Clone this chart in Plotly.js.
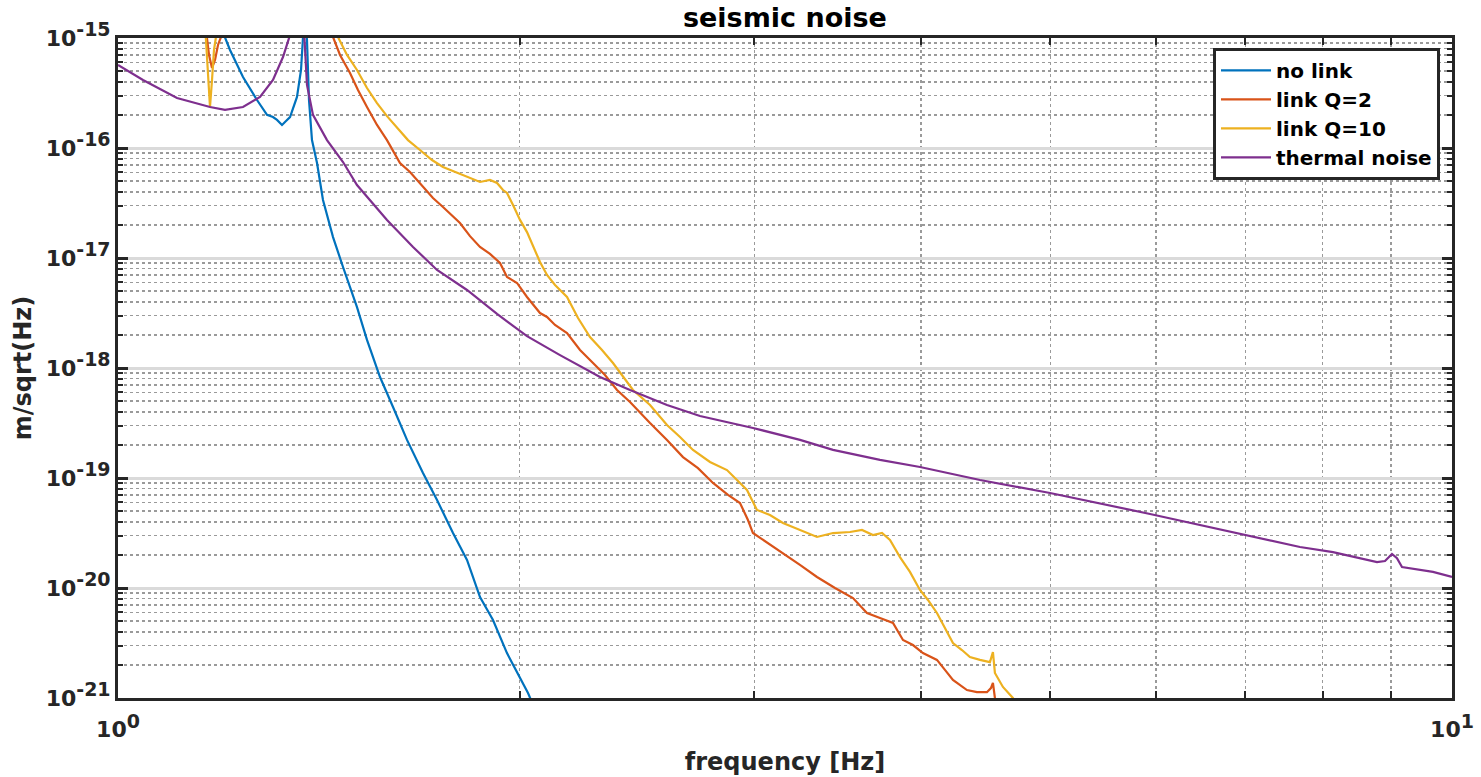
<!DOCTYPE html>
<html><head><meta charset="utf-8">
<script src="https://cdn.plot.ly/plotly-3.0.1.min.js"></script>
<style>html,body{margin:0;padding:0;background:#fff}#chart{width:1481px;height:777px}</style>
</head><body><div id="chart"></div>
<script>
// ---- data ----
const seriesNames = ["no link", "link Q=2", "link Q=10", "thermal noise"];

const noLinkFreq = [1.1884,1.2028,1.2133,1.2408,1.2712,1.2933,1.3067,1.3158,1.3272,1.3364,1.3457,1.3620,1.3715,1.3762,1.3810,1.3857,1.3905,1.3977,1.4099,1.4245,1.4494,1.4746,1.5106,1.5369,1.5718,1.6075,1.6468,1.6929,1.7344,1.7829,1.8265,1.8679,1.9103,1.9570,2.0015,2.0293,2.0398];
const noLinkAmp = [1.46e-15,1.02e-15,7.78e-16,4.42e-16,2.73e-16,2.00e-16,1.91e-16,1.80e-16,1.62e-16,1.76e-16,1.91e-16,2.91e-16,5.12e-16,1.02e-15,1.46e-15,9.59e-16,2.73e-16,1.18e-16,7.31e-17,3.37e-17,1.55e-17,8.28e-18,3.58e-18,1.80e-18,8.28e-19,4.42e-19,2.22e-19,1.11e-19,6.31e-20,3.16e-20,1.80e-20,8.28e-21,5.12e-21,2.56e-21,1.55e-21,1.11e-21,9.59e-22];

const q2Freq = [1.0568,1.1520,1.1640,1.1701,1.1762,1.1823,1.1884,1.1945,1.2008,1.4369,1.4494,1.4670,1.4925,1.5132,1.5369,1.5637,1.5909,1.6270,1.6553,1.6929,1.7223,1.7523,1.7798,1.8045,1.8360,1.8679,1.9004,1.9336,1.9571,1.9912,2.0258,2.0718,2.0970,2.1262,2.1707,2.2199,2.2703,2.3176,2.3663,2.4200,2.5050,2.5795,2.6517,2.7213,2.7926,2.8659,2.9259,2.9664,2.9921,3.0706,3.1512,3.2450,3.3418,3.4473,3.5560,3.6430,3.7257,3.8102,3.8765,3.9437,4.0124,4.1106,4.1677,4.2256,4.3290,4.4043,4.4810,4.5120,4.5276,4.5432,4.5668];
const q2Amp = [1.80e-14,3.37e-15,1.18e-15,7.01e-16,5.34e-16,6.31e-16,8.64e-16,1.02e-15,1.80e-15,1.80e-15,1.02e-15,7.01e-16,4.81e-16,3.37e-16,2.36e-16,1.62e-16,1.18e-16,7.31e-17,6.05e-17,4.42e-17,3.51e-17,2.91e-17,2.41e-17,2.08e-17,1.58e-17,1.26e-17,1.09e-17,9.01e-18,6.72e-18,5.93e-18,4.42e-18,3.16e-18,2.91e-18,2.46e-18,2.08e-18,1.46e-18,1.11e-18,8.64e-19,6.31e-19,4.91e-19,3.16e-19,2.22e-19,1.55e-19,1.23e-19,9.01e-20,7.01e-20,5.93e-20,4.15e-20,3.16e-20,2.56e-20,2.08e-20,1.62e-20,1.26e-20,1.00e-20,8.11e-21,5.93e-21,5.34e-21,4.81e-21,3.37e-21,3.03e-21,2.56e-21,2.22e-21,1.80e-21,1.46e-21,1.18e-21,1.13e-21,1.13e-21,1.23e-21,1.37e-21,1.00e-21,8.64e-22];

const q10Freq = [1.0568,1.1580,1.1640,1.1681,1.1721,1.1762,1.1802,1.1864,1.1925,1.4419,1.4619,1.4848,1.5106,1.5369,1.5637,1.5909,1.6186,1.6496,1.6841,1.7194,1.7523,1.7890,1.8265,1.8679,1.9004,1.9236,1.9436,1.9571,1.9775,2.0015,2.0258,2.0469,2.0718,2.0970,2.1262,2.1707,2.2123,2.2585,2.3057,2.3500,2.3909,2.4325,2.5050,2.5795,2.6381,2.6979,2.7782,2.8609,2.9108,2.9613,3.0129,3.0812,3.1512,3.2450,3.3418,3.4354,3.5377,3.6117,3.6809,3.7385,3.7905,3.8565,3.9234,3.9917,4.0472,4.1106,4.1677,4.2256,4.2918,4.3514,4.4272,4.5042,4.5276,4.5432,4.6064,4.6866,4.7115];
const q10Amp = [1.80e-14,2.73e-15,9.59e-16,4.15e-16,2.36e-16,4.15e-16,7.78e-16,1.18e-15,1.80e-15,2.0e-15,1.02e-15,7.01e-16,5.12e-16,3.51e-16,2.56e-16,1.95e-16,1.55e-16,1.18e-16,9.59e-17,7.78e-17,6.72e-17,6.05e-17,5.45e-17,4.91e-17,5.12e-17,4.81e-17,4.15e-17,3.90e-17,3.03e-17,2.22e-17,1.72e-17,1.31e-17,9.19e-18,7.01e-18,5.68e-18,4.42e-18,2.85e-18,1.91e-18,1.46e-18,1.11e-18,8.28e-19,6.31e-19,4.61e-19,3.03e-19,2.36e-19,1.80e-19,1.40e-19,1.18e-19,9.59e-20,7.78e-20,5.12e-20,4.61e-20,3.90e-20,3.37e-20,2.91e-20,3.16e-20,3.23e-20,3.37e-20,3.03e-20,3.16e-20,2.73e-20,1.91e-20,1.40e-20,9.59e-21,7.78e-21,5.93e-21,4.33e-21,3.16e-21,2.73e-21,2.36e-21,2.22e-21,2.12e-21,2.62e-21,1.69e-21,1.26e-21,1.00e-21,9.01e-22];

const thermalFreq = [1.000,1.0441,1.1072,1.1721,1.2028,1.2408,1.2778,1.3067,1.3295,1.3457,1.3597,1.3715,1.3786,1.3857,1.4001,1.4344,1.4746,1.5106,1.5909,1.6640,1.7344,1.8265,1.9236,2.0258,2.1446,2.2978,2.4199,2.5795,2.7307,2.9924,3.2453,3.4355,3.7257,3.9921,4.4279,4.9966,5.938,7.056,7.692,8.143,8.786,8.908,9.016,9.094,9.173,9.677,10.0];
const thermalAmp = [5.68e-16,4.15e-16,2.85e-16,2.36e-16,2.22e-16,2.36e-16,2.91e-16,4.15e-16,6.72e-16,1.065e-15,1.80e-15,2.46e-15,1.18e-15,3.74e-16,2.00e-16,1.18e-16,7.46e-17,4.61e-17,2.22e-17,1.26e-17,7.78e-18,5.12e-18,3.10e-18,1.95e-18,1.31e-18,8.28e-19,6.31e-19,4.61e-19,3.66e-19,2.85e-19,2.22e-19,1.80e-19,1.46e-19,1.26e-19,9.59e-20,7.31e-20,4.71e-20,2.97e-20,2.36e-20,2.12e-20,1.72e-20,1.76e-20,2.04e-20,1.87e-20,1.55e-20,1.40e-20,1.26e-20];

const yTickExps = [-21,-20,-19,-18,-17,-16,-15];
const xTickExps = [0, 1];
const seriesColors = ["#0072BD", "#D95319", "#EDB120", "#7E2F8E"];

// ---- build ----
const supText = e => "10<sup><span style='font-size:19px'>" + e + "</span></sup>";
const yTickVals = yTickExps.map(e => Math.pow(10, e));
const yTickText = yTickExps.map(supText);
const xTickVals = xTickExps.map(e => Math.pow(10, e));
const xTickText = xTickExps.map(supText);
const yMinor = [];
yTickExps.slice(0, -1).forEach(e => { for (let m = 2; m <= 9; m++) yMinor.push(m * Math.pow(10, e)); });
const xMinor = [];
for (let m = 2; m <= 9; m++) xMinor.push(m);

const xs = [noLinkFreq, q2Freq, q10Freq, thermalFreq];
const ys = [noLinkAmp, q2Amp, q10Amp, thermalAmp];
const traces = seriesNames.map((n, i) => ({
  type: "scatter", mode: "lines", name: n, x: xs[i], y: ys[i],
  line: {color: seriesColors[i], width: 2.2}
}));

const FONT = "DejaVu Sans, sans-serif";
const axisCommon = {
  type: "log", showline: true, linecolor: "#262626", linewidth: 3, mirror: "allticks",
  ticks: "inside", tickcolor: "#262626", tickwidth: 3, ticklen: 10,
  showgrid: true, gridcolor: "#dadada", gridwidth: 3, zeroline: false,
  tickfont: {family: FONT, size: 22, color: "#262626", weight: "bold"},
  tickmode: "array"
};
const layout = {
  width: 1481, height: 777,
  paper_bgcolor: "#ffffff", plot_bgcolor: "#ffffff",
  margin: {l: 118, r: 29, t: 38, b: 79},
  font: {family: FONT, color: "#262626", weight: "bold"},
  title: {text: "seismic noise", x: 0.53, xanchor: "center", y: 0.977, yanchor: "middle",
          font: {family: FONT, size: 27, color: "#000", weight: "bold"}},
  xaxis: Object.assign({}, axisCommon, {
    range: [0, 1], tickvals: xTickVals, ticktext: xTickText, ticklabelstandoff: 10,
    title: {text: "frequency [Hz]", standoff: 12, font: {family: FONT, size: 24, color: "#262626", weight: "bold"}},
    minor: {tickmode: "array", tickvals: xMinor, ticks: "inside", ticklen: 7, tickwidth: 2, tickcolor: "#262626",
            showgrid: true, gridcolor: "#9a9a9a", griddash: "dot", gridwidth: 1.5}
  }),
  yaxis: Object.assign({}, axisCommon, {
    range: [-21, -15], tickvals: yTickVals, ticktext: yTickText,
    title: {text: "m/sqrt(Hz)", standoff: 8, font: {family: FONT, size: 24, color: "#262626", weight: "bold"}},
    minor: {tickmode: "array", tickvals: yMinor, ticks: "inside", ticklen: 5, tickwidth: 2, tickcolor: "#262626",
            showgrid: true, gridcolor: "#9a9a9a", griddash: "dot", gridwidth: 1.5}
  }),
  legend: {x: 0.991, xanchor: "right", y: 0.985, yanchor: "top",
           bgcolor: "#ffffff", bordercolor: "#262626", borderwidth: 3,
           font: {family: FONT, size: 20, color: "#000", weight: "bold"},
           itemwidth: 50, tracegroupgap: 0},
  showlegend: true
};
Plotly.newPlot("chart", traces, layout, {displayModeBar: false, staticPlot: true});
</script>
</body></html>
